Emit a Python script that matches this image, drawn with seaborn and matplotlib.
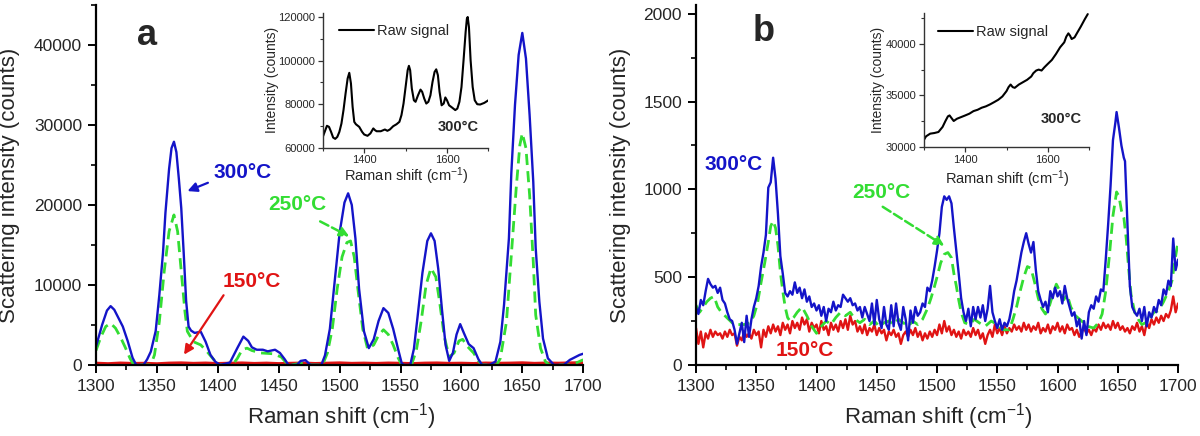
import numpy as np
import matplotlib
matplotlib.use("Agg")
import matplotlib.pyplot as plt
from matplotlib.ticker import MultipleLocator
import seaborn as sns

sns.set_theme(style="ticks")
plt.rcParams['font.family'] = ['Liberation Sans', 'DejaVu Sans']
plt.rcParams['mathtext.fontset'] = 'custom'
plt.rcParams['mathtext.rm'] = 'Liberation Sans'
plt.rcParams['mathtext.it'] = 'Liberation Sans:italic'
plt.rcParams['mathtext.bf'] = 'Liberation Sans:bold'

# ---------------- Panel a : 300 C (blue) ----------------
xa_300 = [1300, 1305, 1309, 1312, 1315, 1318, 1322, 1326, 1330, 1333, 1339, 1342, 1345, 1349, 1352, 1355,
          1357, 1360, 1362, 1364, 1366, 1368, 1370, 1372, 1374, 1376, 1378, 1381, 1386, 1390, 1394, 1398,
          1402, 1410, 1416, 1421, 1425, 1428, 1432, 1437, 1441, 1447, 1451, 1455, 1458, 1465, 1468, 1472,
          1476, 1485, 1488, 1492, 1496, 1500, 1504, 1507, 1510, 1513, 1516, 1520, 1524, 1528, 1532, 1536,
          1540, 1544, 1548, 1551, 1553, 1558, 1561, 1564, 1568, 1572, 1575, 1578, 1581, 1584, 1587, 1590,
          1593, 1596, 1599, 1602, 1606, 1610, 1614, 1617, 1623, 1628, 1632, 1635, 1639, 1641, 1644, 1647,
          1650, 1653, 1656, 1659, 1661, 1664, 1667, 1671, 1676, 1684, 1689, 1697, 1700]
ya_300 = [2300, 5000, 6800, 7350, 6900, 6000, 4800, 3000, 900, 0, 0, 700, 1660, 4240, 8750, 14000,
          19000, 24500, 27100, 27900, 26600, 23300, 19600, 14000, 8000, 4800, 4300, 4000, 4150, 2900, 1250, 400,
          0, 300, 2100, 3540, 3000, 2200, 1900, 1900, 1700, 1900, 1500, 700, 0, 0, 500, 600,
          0, 0, 1200, 4500, 10500, 16500, 20300, 21450, 20000, 15800, 9500, 4200, 2100, 3200, 5500, 7100,
          6500, 4500, 2000, 200, 0, 0, 2000, 6000, 11500, 15500, 16450, 15500, 12000, 7000, 2500, 500,
          1500, 3800, 5100, 4000, 2600, 2100, 700, 0, 0, 420, 2900, 7500, 15800, 24000, 32500, 38750,
          41500, 38300, 31250, 22900, 14600, 7900, 3300, 830, 0, 0, 630, 1250, 1400]

# ---------------- Panel a : 250 C (green dashed) ----------------
xa_250 = [1300, 1304, 1308, 1312, 1316, 1320, 1324, 1328, 1331, 1345, 1348, 1352, 1356, 1360, 1364, 1367,
          1370, 1373, 1375, 1380, 1386, 1391, 1397, 1401, 1412, 1416, 1420, 1424, 1428, 1435, 1445, 1452,
          1456, 1460, 1468, 1472, 1476, 1486, 1490, 1494, 1498, 1502, 1506, 1509, 1512, 1515, 1519, 1523,
          1528, 1532, 1536, 1540, 1544, 1548, 1551, 1559, 1563, 1567, 1571, 1575, 1579, 1582, 1586, 1590,
          1594, 1598, 1601, 1605, 1610, 1614, 1617, 1629, 1632, 1637, 1641, 1645, 1648, 1650, 1653, 1656,
          1659, 1661, 1665, 1669, 1672, 1690, 1695, 1700]
ya_250 = [1800, 3500, 4800, 5200, 4600, 3500, 2200, 800, 0, 0, 1250, 5400, 11700, 16700, 18750, 16700,
          11700, 6700, 4200, 2900, 2500, 1700, 600, 0, 0, 800, 1900, 2100, 1800, 1500, 1400, 1000,
          300, 0, 200, 300, 0, 0, 1500, 4500, 9500, 13500, 15300, 15500, 13500, 9500, 4500, 2000,
          2500, 3700, 4400, 3800, 2500, 900, 0, 0, 1800, 5500, 10000, 12100, 11000, 8000, 3500, 1000,
          1500, 3000, 3200, 2300, 1500, 500, 0, 0, 830, 5400, 13750, 22100, 27500, 28960, 27100, 21250,
          12900, 6250, 2080, 420, 0, 0, 300, 650]

# ---------------- Panel a : 150 C (red) ----------------
xa_150 = [1300, 1310, 1320, 1330, 1340, 1350, 1360, 1370, 1380, 1390, 1400, 1410, 1420, 1430, 1440, 1450,
          1460, 1470, 1480, 1490, 1500, 1510, 1520, 1530, 1540, 1550, 1560, 1570, 1580, 1590, 1600, 1610,
          1620, 1630, 1640, 1650, 1660, 1670, 1680, 1690, 1700]
ya_150 = [180, 120, 200, 150, 170, 110, 190, 220, 160, 200, 140, 180, 210, 150, 190, 130,
          170, 200, 140, 180, 220, 160, 190, 150, 200, 170, 130, 190, 210, 160, 180, 140,
          200, 170, 190, 230, 160, 200, 180, 220, 240]

# ---------------- Inset a : raw signal ----------------
xa_raw = [1300, 1310, 1315, 1320, 1325, 1330, 1335, 1340, 1345, 1350, 1355, 1360, 1364, 1368, 1372, 1376,
          1380, 1388, 1395, 1400, 1408, 1415, 1422, 1426, 1430, 1440, 1450, 1456, 1462, 1470, 1478, 1485,
          1490, 1495, 1500, 1505, 1508, 1511, 1515, 1520, 1524, 1530, 1536, 1540, 1545, 1550, 1555, 1560,
          1565, 1570, 1574, 1578, 1582, 1587, 1592, 1596, 1600, 1605, 1612, 1620, 1625, 1630, 1635, 1640,
          1645, 1648, 1650, 1653, 1657, 1662, 1667, 1673, 1680, 1690, 1700]
ya_raw = [65000, 70100, 69600, 67300, 64700, 64100, 65000, 67300, 71100, 77300, 84900, 91800, 94400, 89500, 78800, 71900,
          70800, 69600, 67300, 66100, 65500, 66600, 68900, 68100, 67600, 67600, 68400, 67800, 68400, 69900, 70800, 71900,
          75000, 80300, 87900, 95600, 97600, 95600, 87200, 81800, 81100, 84100, 86700, 85700, 82600, 80300, 81100, 84100,
          90200, 94800, 96000, 93300, 85700, 79500, 80300, 83100, 81800, 79500, 78500, 77300, 78000, 81100, 87900, 100200,
          113100, 119200, 120000, 115400, 100200, 87900, 81800, 80000, 79850, 80600, 81800]

# ---------------- Panel b : 300 C (blue) ----------------
xb_300 = [1300, 1302, 1304, 1306, 1308, 1310, 1312, 1314, 1316, 1318, 1320, 1322, 1324, 1326, 1328, 1330,
          1332, 1334, 1336, 1338, 1340, 1342, 1344, 1346, 1348, 1350, 1352, 1354, 1356, 1358, 1360, 1362,
          1364, 1366, 1368, 1370, 1372, 1374, 1376, 1378, 1380, 1382, 1384, 1386, 1388, 1390, 1392, 1394,
          1396, 1398, 1400, 1402, 1404, 1406, 1408, 1410, 1412, 1414, 1416, 1418, 1420, 1422, 1424, 1426,
          1428, 1430, 1432, 1434, 1436, 1438, 1440, 1442, 1444, 1446, 1448, 1450, 1452, 1454, 1456, 1458,
          1460, 1462, 1464, 1466, 1468, 1470, 1472, 1474, 1476, 1478, 1480, 1482, 1484, 1486, 1488, 1490,
          1492, 1494, 1496, 1498, 1500, 1502, 1504, 1506, 1508, 1510, 1512, 1514, 1516, 1518, 1520, 1522,
          1524, 1526, 1528, 1530, 1532, 1534, 1536, 1538, 1540, 1542, 1544, 1546, 1548, 1550, 1552, 1554,
          1556, 1558, 1560, 1562, 1564, 1566, 1568, 1570, 1572, 1574, 1576, 1578, 1580, 1582, 1584, 1586,
          1588, 1590, 1592, 1594, 1596, 1598, 1600, 1602, 1604, 1606, 1608, 1610, 1612, 1614, 1616, 1618,
          1620, 1622, 1624, 1626, 1628, 1630, 1632, 1634, 1636, 1638, 1640, 1642, 1644, 1646, 1648, 1649,
          1651, 1653, 1655, 1656, 1658, 1660, 1662, 1664, 1666, 1668, 1670, 1672, 1674, 1676, 1678, 1680,
          1682, 1684, 1686, 1688, 1690, 1692, 1694, 1696, 1698, 1700]
yb_300 = [330, 290, 370, 340, 420, 490, 460, 440, 450, 410, 440, 370, 350, 300, 260, 250,
          200, 120, 180, 240, 130, 280, 160, 260, 330, 380, 450, 560, 640, 740, 1010, 1040,
          1180, 1060, 860, 620, 520, 410, 390, 420, 400, 470, 410, 440, 380, 430, 360, 390,
          330, 350, 310, 340, 280, 330, 250, 320, 300, 360, 310, 340, 330, 400, 380, 360,
          380, 340, 350, 310, 330, 270, 330, 290, 250, 350, 230, 370, 260, 210, 330, 230,
          200, 340, 220, 350, 240, 200, 330, 260, 140, 310, 240, 330, 280, 300, 350, 330,
          440, 420, 480, 560, 650, 750, 900, 960, 940, 960, 920, 780, 650, 520, 380, 300,
          250, 320, 220, 330, 260, 330, 270, 340, 250, 320, 450, 300, 250, 210, 260, 200,
          240, 220, 260, 330, 420, 480, 560, 640, 700, 750, 690, 640, 700, 540, 420, 370,
          330, 360, 300, 420, 380, 440, 390, 420, 350, 450, 380, 330, 280, 300, 220, 260,
          150, 250, 170, 300, 340, 320, 390, 360, 430, 420, 600, 800, 1020, 1280, 1380, 1440,
          1350, 1250, 1180, 1160, 800, 450, 330, 300, 280, 320, 250, 330, 220, 300, 270, 330,
          300, 370, 340, 430, 400, 480, 450, 720, 540, 600]

# ---------------- Panel b : 250 C (green dashed) ----------------
xb_250 = [1300, 1303, 1306, 1309, 1312, 1315, 1318, 1321, 1324, 1327, 1330, 1335, 1340, 1345, 1348, 1351,
          1354, 1357, 1360, 1362, 1364, 1366, 1368, 1370, 1372, 1374, 1376, 1378, 1381, 1384, 1388, 1392,
          1396, 1400, 1404, 1408, 1412, 1416, 1420, 1424, 1428, 1432, 1436, 1440, 1444, 1448, 1452, 1456,
          1460, 1464, 1468, 1472, 1476, 1480, 1484, 1488, 1492, 1495, 1498, 1500, 1503, 1506, 1509, 1512,
          1514, 1516, 1518, 1520, 1523, 1527, 1531, 1535, 1540, 1545, 1550, 1555, 1560, 1563, 1566, 1569,
          1572, 1575, 1578, 1581, 1584, 1587, 1590, 1593, 1596, 1599, 1602, 1605, 1608, 1611, 1615, 1620,
          1625, 1630, 1634, 1637, 1640, 1643, 1646, 1649, 1651, 1653, 1655, 1657, 1659, 1661, 1664, 1667,
          1670, 1673, 1676, 1680, 1684, 1688, 1692, 1695, 1698, 1700]
yb_250 = [340, 300, 330, 360, 380, 390, 330, 300, 280, 260, 240, 230, 230, 240, 280, 350,
          470, 580, 700, 790, 820, 780, 680, 530, 420, 330, 270, 250, 270, 300, 330, 280,
          220, 180, 220, 250, 230, 270, 300, 280, 300, 260, 240, 260, 230, 250, 220, 240,
          250, 230, 260, 240, 220, 250, 230, 260, 320, 380, 450, 500, 580, 630, 640, 610,
          520, 450, 370, 300, 240, 230, 260, 240, 220, 250, 230, 200, 200, 260, 330, 420,
          500, 560, 550, 470, 380, 320, 290, 330, 400, 460, 420, 370, 400, 330, 280, 250,
          220, 210, 240, 290, 420, 620, 850, 985, 960, 880, 840, 720, 550, 400, 300, 260,
          230, 240, 260, 300, 310, 360, 420, 480, 620, 700]

# ---------------- Panel b : 150 C (red) ----------------
xb_150 = list(range(1300, 1701, 2))
yb_150 = [210, 120, 190, 100, 180, 150, 200, 160, 190, 170, 180, 150, 190, 160, 200, 170,
          180, 110, 160, 140, 190, 160, 180, 150, 200, 170, 190, 100, 200, 160, 220, 180,
          230, 190, 220, 170, 240, 200, 230, 180, 250, 210, 240, 200, 270, 230, 260, 190,
          240, 210, 230, 180, 250, 200, 220, 170, 240, 200, 230, 190, 250, 210, 260, 200,
          280, 230, 250, 190, 220, 180, 230, 170, 210, 190, 230, 170, 210, 180, 200, 140,
          190, 170, 200, 160, 180, 120, 170, 190, 160, 200, 170, 210, 160, 190, 140, 180,
          150, 190, 160, 200, 170, 230, 180, 250, 190, 220, 170, 200, 160, 190, 150, 200,
          170, 190, 160, 210, 170, 200, 150, 180, 120, 170, 200, 160, 230, 180, 210, 170,
          220, 180, 210, 190, 230, 200, 220, 190, 240, 200, 230, 190, 220, 200, 240, 180,
          210, 190, 230, 180, 220, 200, 240, 190, 220, 180, 230, 200, 210, 170, 200, 160,
          190, 210, 180, 200, 170, 210, 190, 230, 200, 240, 210, 230, 200, 250, 210, 240,
          200, 220, 190, 210, 180, 220, 200, 240, 190, 220, 170, 240, 210, 260, 230, 270,
          240, 280, 250, 290, 270, 310, 390, 300, 350]

# ---------------- Inset b : raw signal ----------------
xb_raw = [1300, 1305, 1315, 1325, 1335, 1345, 1352, 1358, 1362, 1366, 1372, 1380, 1390, 1400, 1410, 1420,
          1430, 1440, 1450, 1460, 1470, 1480, 1490, 1500, 1505, 1510, 1515, 1520, 1530, 1540, 1550, 1560,
          1565, 1572, 1578, 1585, 1592, 1600, 1610, 1620, 1630, 1640, 1645, 1650, 1654, 1658, 1665, 1672,
          1680, 1690, 1697]
yb_raw = [30700, 31030, 31290, 31350, 31450, 31940, 32520, 32970, 33060, 32840, 32520, 32740, 32900, 33060, 33230, 33480,
          33610, 33810, 33940, 34130, 34350, 34580, 34900, 35420, 35810, 36060, 35810, 35740, 36060, 36290, 36520, 36840,
          37160, 37420, 37510, 37420, 37740, 38060, 38450, 39030, 39680, 40160, 40710, 41030, 40810, 40480, 40640, 41130,
          41680, 42420, 42900]

BLUE = '#1414c8'
GREEN = '#33dd33'
RED = '#e01414'

fig = plt.figure(figsize=(12, 4.36), dpi=100)
axa = fig.add_axes([0.08, 0.163, 0.406, 0.8257])
axb = fig.add_axes([0.58, 0.163, 0.4017, 0.8257])


def style_main(ax):
    for s in ['top', 'right']:
        ax.spines[s].set_visible(False)
    for s in ['left', 'bottom']:
        ax.spines[s].set_linewidth(1.6)
        ax.spines[s].set_color('black')
    ax.tick_params(which='major', direction='out', length=6, width=1.4, labelsize=12.5, pad=4, color='black')
    ax.tick_params(which='minor', direction='out', length=3.5, width=1.2, color='black')
    ax.set_xlim(1300, 1700)
    ax.xaxis.set_major_locator(MultipleLocator(50))
    ax.xaxis.set_minor_locator(MultipleLocator(25))
    ax.set_xlabel(r'Raman shift (cm$^{-1}$)', fontsize=16)
    ax.set_ylabel('Scattering intensity (counts)', fontsize=16)
    ax.grid(False)
    ax.set_facecolor('white')


def draw(ax, x, y, color, lw, dashed=False):
    sns.lineplot(x=np.array(x), y=np.array(y), ax=ax, color=color, lw=lw, errorbar=None)
    line = ax.lines[-1]
    if dashed:
        line.set_dashes([4, 2.2])


# Panel a
draw(axa, xa_150, ya_150, RED, 2.6)
draw(axa, xa_250, ya_250, GREEN, 2.0, dashed=True)
draw(axa, xa_300, ya_300, BLUE, 1.7)
style_main(axa)
axa.set_ylim(0, 45000)
axa.yaxis.set_major_locator(MultipleLocator(10000))
axa.yaxis.set_minor_locator(MultipleLocator(5000))
axa.yaxis.set_label_coords(-0.156, 0.5)
axa.xaxis.set_label_coords(0.503, -0.1)

axa.text(1342, 41200, 'a', fontsize=26, fontweight='bold', ha='center', va='center')
axa.text(1420, 24000, '300°C', color=BLUE, fontsize=15, fontweight='bold', ha='center', va='center')
axa.annotate('', xy=(1373, 21600), xytext=(1394, 22900),
             arrowprops=dict(arrowstyle='-|>', color=BLUE, lw=1.6, mutation_scale=14))
axa.text(1465, 20100, '250°C', color=GREEN, fontsize=15, fontweight='bold', ha='center', va='center')
axa.annotate('', xy=(1510, 15900), xytext=(1482, 18100),
             arrowprops=dict(arrowstyle='-|>', color=GREEN, lw=1.8, ls='--', mutation_scale=14))
axa.text(1428, 10400, '150°C', color=RED, fontsize=15, fontweight='bold', ha='center', va='center')
axa.annotate('', xy=(1371, 1000), xytext=(1406, 9000),
             arrowprops=dict(arrowstyle='-|>', color=RED, lw=1.6, mutation_scale=14))

# Panel b
draw(axb, xb_150, yb_150, RED, 1.7)
draw(axb, xb_250, yb_250, GREEN, 2.0, dashed=True)
draw(axb, xb_300, yb_300, BLUE, 1.7)
style_main(axb)
axb.set_ylim(0, 2050)
axb.yaxis.set_major_locator(MultipleLocator(500))
axb.yaxis.set_minor_locator(MultipleLocator(250))
axb.yaxis.set_label_coords(-0.135, 0.5)
axb.xaxis.set_label_coords(0.503, -0.1)

axb.text(1356, 1900, 'b', fontsize=26, fontweight='bold', ha='center', va='center')
axb.text(1331, 1142, '300°C', color=BLUE, fontsize=15, fontweight='bold', ha='center', va='center')
axb.text(1454, 983, '250°C', color=GREEN, fontsize=15, fontweight='bold', ha='center', va='center')
axb.annotate('', xy=(1508, 670), xytext=(1453, 909),
             arrowprops=dict(arrowstyle='-|>', color=GREEN, lw=1.8, ls='--', mutation_scale=14))
axb.text(1390, 85, '150°C', color=RED, fontsize=15, fontweight='bold', ha='center', va='center')


def style_inset(ax):
    for s in ['top', 'right']:
        ax.spines[s].set_visible(False)
    for s in ['left', 'bottom']:
        ax.spines[s].set_linewidth(1.0)
        ax.spines[s].set_color('#333333')
    ax.tick_params(which='major', direction='out', length=3.5, width=0.9, labelsize=8, pad=2, color='#333333')
    ax.tick_params(which='minor', direction='out', length=2, width=0.8, color='#333333')
    ax.set_xlim(1300, 1700)
    ax.xaxis.set_major_locator(MultipleLocator(200))
    ax.xaxis.set_minor_locator(MultipleLocator(100))
    ax.set_xlabel(r'Raman shift (cm$^{-1}$)', fontsize=10.5)
    ax.set_ylabel('Intensity (counts)', fontsize=10)
    ax.grid(False)
    ax.patch.set_alpha(0)


ina = fig.add_axes([0.269, 0.661, 0.138, 0.310])
sns.lineplot(x=np.array(xa_raw), y=np.array(ya_raw), ax=ina, color='black', lw=1.5, errorbar=None, label='Raw signal')
style_inset(ina)
ina.set_ylim(60000, 122000)
ina.yaxis.set_major_locator(MultipleLocator(20000))
ina.yaxis.set_minor_locator(MultipleLocator(10000))
ina.yaxis.set_label_coords(-0.265, 0.5)
ina.xaxis.set_label_coords(0.503, -0.133)
ina.legend(loc='center left', bbox_to_anchor=(0.1, 0.867), frameon=False, fontsize=10.5,
           handlelength=2.4, handletextpad=0.2, borderpad=0, borderaxespad=0)
ina.text(0.82, 0.156, '300°C', transform=ina.transAxes, fontsize=10.5, fontweight='bold', ha='center', va='center')

inb = fig.add_axes([0.770, 0.663, 0.1375, 0.307])
sns.lineplot(x=np.array(xb_raw), y=np.array(yb_raw), ax=inb, color='black', lw=1.5, errorbar=None, label='Raw signal')
style_inset(inb)
inb.set_ylim(30000, 43000)
inb.yaxis.set_major_locator(MultipleLocator(5000))
inb.yaxis.set_minor_locator(MultipleLocator(2500))
inb.yaxis.set_label_coords(-0.236, 0.5)
inb.xaxis.set_label_coords(0.503, -0.157)
inb.legend(loc='center left', bbox_to_anchor=(0.085, 0.858), frameon=False, fontsize=10.5,
           handlelength=2.4, handletextpad=0.2, borderpad=0, borderaxespad=0)
inb.text(0.83, 0.21, '300°C', transform=inb.transAxes, fontsize=10.5, fontweight='bold', ha='center', va='center')

fig.savefig('out.png', dpi=100, facecolor='white')
